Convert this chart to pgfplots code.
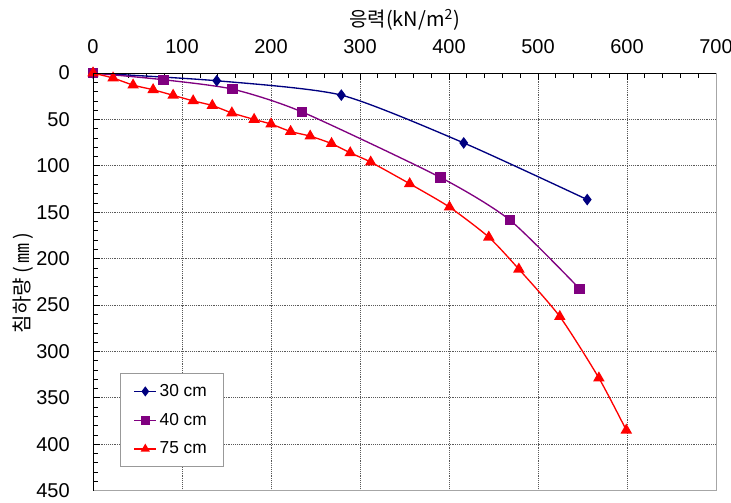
\documentclass[border=0pt]{standalone}
\usepackage{fontspec}
\setmainfont{Liberation Sans}
\newfontfamily\kr{Noto Sans CJK KR}
\usepackage{pgfplots}
\pgfplotsset{compat=1.18}

\definecolor{c30}{RGB}{0,0,128}
\definecolor{c40}{RGB}{128,0,128}
\definecolor{c75}{RGB}{255,0,0}

\begin{document}
\begin{tikzpicture}
\begin{axis}[
  scale only axis, width=467pt, height=313pt,
  xmin=0, xmax=700, ymin=0, ymax=450, y dir=reverse,
  xtick distance=100, ytick distance=50,
  minor x tick num=4, minor y tick num=4,
  xticklabel pos=right, xtick pos=right, ytick pos=left,
  tick align=inside,
  major tick length=5pt, minor tick length=3.5pt,
  tick style={black, line width=0.5pt},
  xmajorgrids, ymajorgrids,
  grid style={densely dotted, black!65, line width=0.6pt},
  axis line style={gray!70, line width=0.6pt},
  /pgf/number format/assume math mode=true,
  tick label style={font=\fontsize{15}{17}\selectfont},
  xticklabel style={yshift=11pt},
  yticklabel style={xshift=-14pt},
  xlabel={{\kr 응력(kN/m\textsuperscript{2})}},
  ylabel={{\kr 침하량~(\,㎜\,)}},
  xlabel style={font=\fontsize{15}{17}\selectfont},
  ylabel style={font=\fontsize{15}{17}\selectfont, at={(axis description cs:-0.112,0.497)}, anchor=center},
  legend style={at={(0.0433,0.2806)}, anchor=north west, draw=gray!80,
    font=\fontsize{13}{15}\selectfont, row sep=7pt, inner xsep=10pt, inner ysep=6pt},
  legend cell align=left,
  legend image code/.code={\draw[#1] (0mm,0mm) -- (16.5pt,0mm); \draw[#1, only marks, mark size=3pt] plot coordinates {(8.25pt,0mm)};},
  extra description/.code={\draw[black, line width=0.6pt] (axis description cs:0,0) -- (axis description cs:0,1) -- (axis description cs:1,1);},
]
\addplot[color=c30, line width=1pt, smooth, tension=0.4, mark=diamond*, mark size=3.6pt, mark options={solid}]
  coordinates {(0,0)(139,8.3)(279,23.8)(416.5,75.3)(555.3,136.4)};
\addlegendentry{30 cm}
\addplot[color=c40, line width=1pt, smooth, tension=0.4, mark=square*, mark size=3.4pt]
  coordinates {(0,0)(79,7.2)(156.5,17.3)(234.6,41.8)(390.6,112.6)(468.3,158.4)(546.7,232.5)};
\addlegendentry{40 cm}
\addplot[color=c75, line width=1pt, smooth, tension=0.4, mark=triangle*, mark size=4pt]
  coordinates {(0,0)(22.5,5.4)(45,13)(67.5,18)(90,24)(112.5,30)(134,35)(156,43)(181,50)(200,55)(222,63)(244,68)(268,76)(289,86)(312,96)(355.8,119.3)(400.5,144.5)(444.7,176.9)(478.5,211.4)(524.5,262.5)(568.4,328.7)(599.2,384.9)};
\addlegendentry{75 cm}
\end{axis}
\pgfresetboundingbox
\path[use as bounding box] ([shift={(-69.75pt,-9pt)}]current axis.south west) rectangle ([shift={(11.25pt,54.75pt)}]current axis.north east);
\end{tikzpicture}
\end{document}
